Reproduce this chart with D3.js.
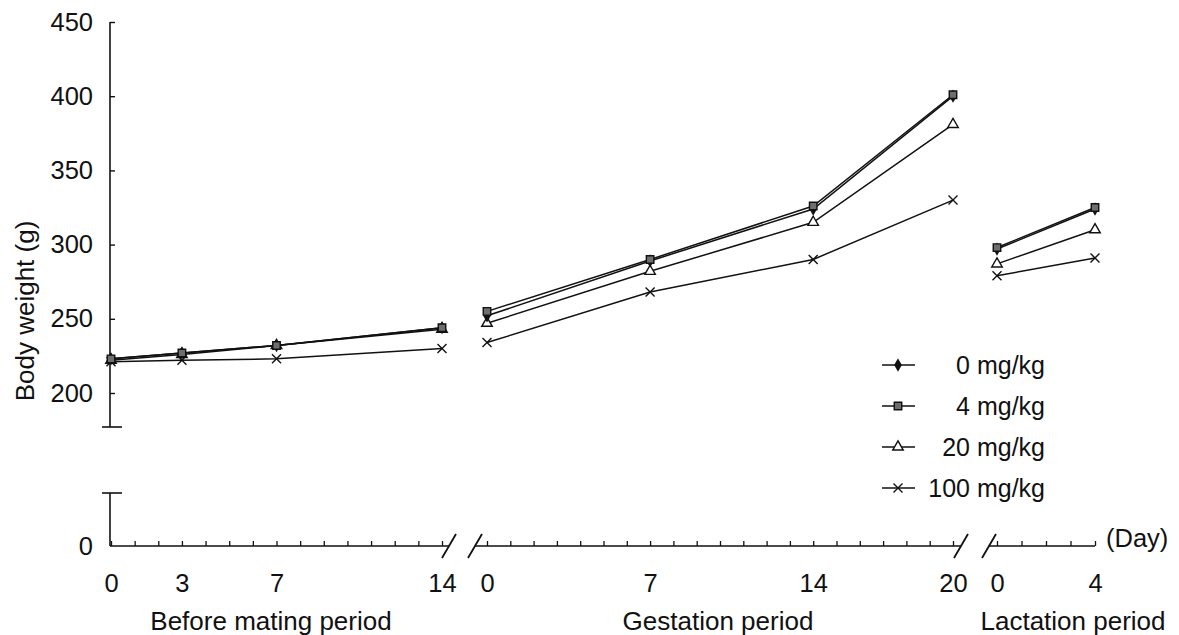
<!DOCTYPE html>
<html>
<head>
<meta charset="utf-8">
<script src="https://cdn.jsdelivr.net/npm/d3@7"></script>
<style>
  body { margin: 0; background: #fff; }
  text { font-family: "Liberation Sans", Arial, sans-serif; fill: #111; }
</style>
</head>
<body>
<div id="chart"></div>
<script>
var width = 1179, height = 635

// days per period
var daysBefore = [0, 3, 7, 14]
var daysGest = [0, 7, 14, 20]
var daysLact = [0, 4]

// body weight (g) per dose group
var dose0 = { before: [223, 227, 232, 244], gest: [252, 289, 324, 400], lact: [297, 324] }
var dose4 = { before: [223, 227, 232, 244], gest: [255, 290, 326, 401], lact: [298, 325] }
var dose20 = { before: [222, 226, 232, 243], gest: [247, 282, 315, 381], lact: [287, 310] }
var dose100 = { before: [221, 222, 223, 230], gest: [234, 268, 290, 330], lact: [279, 291] }

var legendLabels = ["0 mg/kg", "4 mg/kg", "20 mg/kg", "100 mg/kg"]
var yTicks = [200, 250, 300, 350, 400, 450]
var periodLabels = ["Before mating period", "Gestation period", "Lactation period"]

var svg = d3.select("#chart").append("svg")
    .attr("width", width)
    .attr("height", height)

var ink = "#111"
var axisX0 = 110, axisY0 = 546

var y = d3.scaleLinear().domain([200, 450]).range([393, 22])

var segments = [
  { days: daysBefore, key: "before", x: d3.scaleLinear().domain([0, 14]).range([111, 442]),
    ticks: d3.range(0, 15), lineFrom: axisX0, lineTo: 449, slashes: [449], label: periodLabels[0], labelX: 271 },
  { days: daysGest, key: "gest", x: d3.scaleLinear().domain([0, 20]).range([487, 953]),
    ticks: d3.range(0, 21), lineFrom: 475, lineTo: 961, slashes: [475, 961], label: periodLabels[1], labelX: 718 },
  { days: daysLact, key: "lact", x: d3.scaleLinear().domain([0, 4]).range([997, 1095]),
    ticks: d3.range(0, 5), lineFrom: 989, lineTo: 1095, slashes: [989], label: periodLabels[2], labelX: 1073 }
]

// y axis, upper part
var yAxis = svg.append("g")
    .attr("transform", "translate(" + axisX0 + ",0)")
    .call(d3.axisLeft(y).tickValues(yTicks).tickSize(-5).tickPadding(17))
yAxis.select(".domain").remove()
yAxis.selectAll("line").attr("stroke", ink).attr("stroke-width", 1.4)
yAxis.selectAll("text").style("font-size", "25.5px").attr("fill", ink)

svg.append("line")
    .attr("x1", axisX0).attr("x2", axisX0)
    .attr("y1", y(450)).attr("y2", 427)
    .attr("stroke", ink).attr("stroke-width", 1.6)
svg.append("line")
    .attr("x1", axisX0 - 8).attr("x2", axisX0 + 12)
    .attr("y1", 427).attr("y2", 427)
    .attr("stroke", ink).attr("stroke-width", 1.6)

// y axis, lower part (zero)
var yLow = d3.scaleLinear().domain([0, 30]).range([axisY0, 493])
svg.append("line")
    .attr("x1", axisX0).attr("x2", axisX0)
    .attr("y1", yLow(30)).attr("y2", yLow(0))
    .attr("stroke", ink).attr("stroke-width", 1.6)
svg.append("line")
    .attr("x1", axisX0 - 8).attr("x2", axisX0 + 12)
    .attr("y1", yLow(30)).attr("y2", yLow(30))
    .attr("stroke", ink).attr("stroke-width", 1.6)
var yLowAxis = svg.append("g")
    .attr("transform", "translate(" + axisX0 + ",0)")
    .call(d3.axisLeft(yLow).tickValues([0]).tickSize(0).tickPadding(17))
yLowAxis.select(".domain").remove()
yLowAxis.selectAll("text").style("font-size", "25.5px").attr("fill", ink)

svg.append("text")
    .attr("transform", "translate(25,311) rotate(-90)")
    .attr("text-anchor", "middle")
    .attr("dy", "0.35em")
    .style("font-size", "26px")
    .text("Body weight (g)")

// x axes, one per period
var labelled = { before: [0, 3, 7, 14], gest: [0, 7, 14, 20], lact: [0, 4] }
segments.forEach(function(s) {
  var g = svg.append("g")
      .attr("transform", "translate(0," + axisY0 + ")")
      .call(d3.axisBottom(s.x).tickValues(s.ticks).tickSize(-5).tickPadding(28)
        .tickFormat(function(d) { return labelled[s.key].indexOf(d) >= 0 ? d : "" }))
  g.select(".domain").remove()
  g.selectAll("line").attr("stroke", ink).attr("stroke-width", 1.3)
  g.selectAll("text").style("font-size", "25.5px").attr("fill", ink)

  svg.append("line")
      .attr("x1", s.lineFrom).attr("x2", s.lineTo)
      .attr("y1", axisY0).attr("y2", axisY0)
      .attr("stroke", ink).attr("stroke-width", 1.6)
  s.slashes.forEach(function(sx) {
    svg.append("line")
        .attr("x1", sx - 7).attr("y1", axisY0 + 12)
        .attr("x2", sx + 7).attr("y2", axisY0 - 12)
        .attr("stroke", ink).attr("stroke-width", 1.8)
  })

  svg.append("text")
      .attr("x", s.labelX).attr("y", 630)
      .attr("text-anchor", "middle")
      .style("font-size", "26px")
      .text(s.label)
})

svg.append("text")
    .attr("x", 1106).attr("y", axisY0 - 8)
    .attr("dy", "0.35em")
    .style("font-size", "25.5px")
    .text("(Day)")

// markers
function timesPath(r) {
  return "M" + (-r) + "," + (-r) + "L" + r + "," + r + "M" + (-r) + "," + r + "L" + r + "," + (-r)
}
var styles = [
  { data: dose100, path: timesPath(4.5), fill: "none" },
  { data: dose20, path: d3.symbol().type(d3.symbolTriangle).size(48)(), fill: "#fff" },
  { data: dose0, path: d3.symbol().type(d3.symbolDiamond).size(32)(), fill: ink },
  { data: dose4, path: d3.symbol().type(d3.symbolSquare).size(56)(), fill: "#6e6e6e" }
]

var line = d3.line()

styles.forEach(function(st) {
  segments.forEach(function(s) {
    var pts = s.days.map(function(d, i) { return [s.x(d), y(st.data[s.key][i])] })
    svg.append("path")
        .attr("d", line(pts))
        .attr("fill", "none")
        .attr("stroke", ink)
        .attr("stroke-width", 1.5)
    svg.selectAll(null).data(pts).enter().append("path")
        .attr("transform", function(p) { return "translate(" + p[0] + "," + p[1] + ")" })
        .attr("d", st.path)
        .attr("fill", st.fill)
        .attr("stroke", ink)
        .attr("stroke-width", 1.4)
  })
})

// legend
var legendStyles = [styles[2], styles[3], styles[1], styles[0]]
var legendY = [365, 406, 447, 488]
legendLabels.forEach(function(lab, i) {
  var gy = legendY[i]
  svg.append("line")
      .attr("x1", 882).attr("x2", 915)
      .attr("y1", gy).attr("y2", gy)
      .attr("stroke", ink).attr("stroke-width", 1.6)
  svg.append("path")
      .attr("transform", "translate(898," + gy + ")")
      .attr("d", legendStyles[i].path)
      .attr("fill", legendStyles[i].fill)
      .attr("stroke", ink)
      .attr("stroke-width", 1.4)
  svg.append("text")
      .attr("x", 1045).attr("y", gy)
      .attr("dy", "0.35em")
      .attr("text-anchor", "end")
      .style("font-size", "25px")
      .text(lab)
})
</script>
</body>
</html>
